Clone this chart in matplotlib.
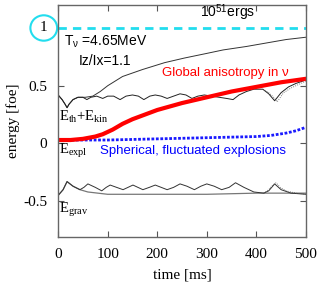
import matplotlib
matplotlib.use("Agg")
import matplotlib.pyplot as plt
from matplotlib.patches import Ellipse

# anisotropic model (smooth) and fluctuating model, energies in foe
t_eth_smooth = [0, 8, 14, 18, 22, 30, 40, 55, 70, 85, 100, 130, 170, 215, 255, 300, 333, 380, 420, 460, 500]
eth_smooth = [0.42, 0.38, 0.34, 0.31, 0.34, 0.38, 0.40, 0.40, 0.41, 0.45, 0.50, 0.58, 0.64, 0.70, 0.74, 0.78, 0.81, 0.84, 0.87, 0.90, 0.92]

t_eth_fluc = [0, 8, 14, 18, 22, 30, 40, 50, 58, 66, 78, 90, 100, 112, 125, 137, 150, 162, 173, 185, 196,
              208, 220, 233, 246, 258, 270, 282, 295, 310, 325, 340, 353, 365, 380, 395, 413, 425, 437,
              450, 465, 480, 500]
eth_fluc = [0.42, 0.38, 0.34, 0.31, 0.34, 0.38, 0.40, 0.40, 0.38, 0.40, 0.41, 0.39, 0.41, 0.41, 0.38, 0.41,
            0.42, 0.41, 0.38, 0.41, 0.42, 0.41, 0.39, 0.41, 0.43, 0.42, 0.39, 0.41, 0.42, 0.41, 0.40, 0.39,
            0.38, 0.42, 0.45, 0.47, 0.47, 0.43, 0.37, 0.44, 0.49, 0.52, 0.55]

t_eth_alt = [413, 425, 435, 442, 455, 470, 485, 500]
eth_alt = [0.47, 0.44, 0.40, 0.36, 0.44, 0.48, 0.51, 0.54]

t_grav_fluc = [0, 10, 18, 30, 44, 52, 60, 75, 88, 97, 105, 118, 131, 141, 151, 161, 171, 184, 196, 208,
               220, 233, 246, 260, 275, 288, 300, 315, 330, 345, 358, 375, 395, 415, 425, 437, 450, 470, 500]
grav_fluc = [-0.45, -0.40, -0.33, -0.37, -0.40, -0.38, -0.35, -0.38, -0.41, -0.38, -0.36, -0.38, -0.40,
             -0.38, -0.36, -0.38, -0.40, -0.38, -0.36, -0.38, -0.40, -0.38, -0.35, -0.37, -0.40, -0.37,
             -0.35, -0.37, -0.40, -0.38, -0.34, -0.38, -0.42, -0.43, -0.41, -0.35, -0.40, -0.43, -0.44]

t_grav_alt = [415, 425, 433, 440, 448, 460, 480, 500]
grav_alt = [-0.43, -0.40, -0.36, -0.34, -0.38, -0.41, -0.43, -0.44]

t_grav_smooth = [0, 10, 18, 30, 44, 60, 80, 100, 150, 200, 300, 400, 500]
grav_smooth = [-0.45, -0.40, -0.33, -0.37, -0.40, -0.42, -0.43, -0.44, -0.44, -0.44, -0.44, -0.43, -0.43]

t_expl_aniso = [0, 25, 50, 75, 90, 110, 130, 150, 175, 200, 250, 300, 350, 400, 450, 500]
expl_aniso = [0.03, 0.03, 0.04, 0.06, 0.08, 0.12, 0.17, 0.21, 0.25, 0.29, 0.35, 0.40, 0.45, 0.49, 0.53, 0.56]

t_expl_fluc = [0, 100, 200, 300, 400, 430, 460, 480, 500]
expl_fluc = [0.03, 0.03, 0.04, 0.05, 0.06, 0.07, 0.09, 0.11, 0.14]

xticks = [0, 100, 200, 300, 400, 500]
yticks = [-0.5, 0, 0.5]
ytick_labels = ["-0.5", "0", "0.5"]

serif = "Liberation Serif"
sans = "Liberation Sans"

plt.rcParams["mathtext.fontset"] = "custom"
plt.rcParams["mathtext.rm"] = serif
plt.rcParams["mathtext.it"] = serif + ":italic"
plt.rcParams["mathtext.sf"] = sans

fig = plt.figure(figsize=(3.23, 2.88), dpi=100)
ax = fig.add_axes([0.180, 0.177, 0.767, 0.806])

ax.axhline(1.0, color="#22ddee", lw=2, ls=(0, (3, 2.2)))
ax.plot(t_eth_smooth, eth_smooth, color="#333333", lw=0.7)
ax.plot(t_eth_fluc, eth_fluc, color="#222222", lw=0.7)
ax.plot(t_eth_alt, eth_alt, color="#555555", lw=0.6, ls=":")
ax.plot(t_grav_smooth, grav_smooth, color="#777777", lw=0.9)
ax.plot(t_grav_fluc, grav_fluc, color="#333333", lw=0.7)
ax.plot(t_grav_alt, grav_alt, color="#555555", lw=0.6, ls=":")
ax.plot(t_expl_fluc, expl_fluc, color="#1a1aff", lw=2.0, ls=(0, (1, 0.6)))
ax.plot(t_expl_aniso, expl_aniso, color="#ff0000", lw=3)

ax.set_xlim(0, 500)
ax.set_ylim(-0.81, 1.2)
ax.set_xticks(xticks)
ax.set_yticks(yticks)
ax.set_xticklabels([str(v) for v in xticks], family=serif, fontsize=11)
ax.set_yticklabels(ytick_labels, family=serif, fontsize=11)
ax.tick_params(direction="in", length=4, top=True, right=True, color="#555555", pad=8)
for s in ax.spines.values():
    s.set_color("#666666")
    s.set_linewidth(1.0)

ax.set_xlabel("time [ms]", family=serif, fontsize=11, labelpad=5)
ax.set_ylabel("energy [foe]", family=serif, fontsize=11, labelpad=2)

# annotations
ax.text(286, 1.13, r"10$^{\mathsf{51}}$ergs", family=sans, fontsize=10, va="center")
ax.text(12, 0.875, r"T$_{\mathsf{\nu}}$ =4.65MeV", family=sans, fontsize=10, va="center")
ax.text(42, 0.71, "Iz/Ix=1.1", family=sans, fontsize=10, va="center")
ax.text(210, 0.613, "Global anisotropy in \u03bd", family=sans, fontsize=9.5, color="red", va="center")
ax.text(85, -0.065, "Spherical, fluctuated explosions", family=sans, fontsize=9.5, color="blue", va="center")
ax.text(2, 0.23, r"E$_{\rm th}$+E$_{\rm kin}$", family=serif, fontsize=10.5, va="center")
ax.text(2, -0.065, r"E$_{\rm expl}$", family=serif, fontsize=10.5, va="center")
ax.text(2, -0.58, r"E$_{\rm grav}$", family=serif, fontsize=10.5, va="center")

ax.add_patch(Ellipse((-29, 1.0), 54, 0.22, fill=False, ec="#22ddee", lw=1.5, clip_on=False))
ax.text(-29, 1.0, "1", family=serif, fontsize=11, ha="center", va="center", clip_on=False)

fig.savefig("out.png", dpi=100)
